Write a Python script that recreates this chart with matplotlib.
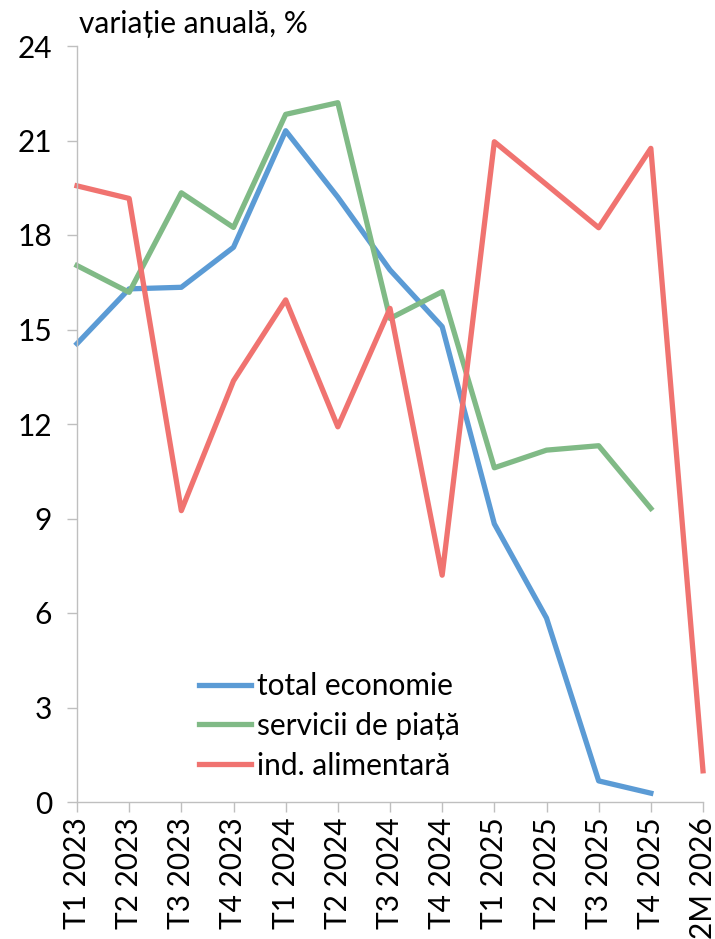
import numpy as np
import matplotlib
matplotlib.use("Agg")
import matplotlib.pyplot as plt

plt.rcParams['font.family'] = ['Lato', 'DejaVu Sans']

categories = ["T1 2023", "T2 2023", "T3 2023", "T4 2023",
              "T1 2024", "T2 2024", "T3 2024", "T4 2024",
              "T1 2025", "T2 2025", "T3 2025", "T4 2025", "2M 2026"]

total_economie = [14.55, 16.29, 16.34, 17.61, 21.31, 19.2, 16.89, 15.09,
                  8.83, 5.84, 0.67, 0.28, np.nan]
servicii_piata = [17.03, 16.18, 19.34, 18.24, 21.83, 22.2, 15.35, 16.2,
                  10.61, 11.17, 11.31, 9.32, np.nan]
ind_alimentara = [19.56, 19.16, 9.25, 13.37, 15.94, 11.91, 15.67, 7.2,
                  20.96, 19.6, 18.23, 20.75, 0.99]

blue = "#5B9BD5"
green = "#80BA86"
red = "#F07370"
axis_gray = "#BFBFBF"
fs = 21.5

fig = plt.figure(figsize=(7.15, 9.39), dpi=100)
ax = fig.add_axes([77/715, 1 - 802/939, (703 - 77)/715, (802 - 46)/939])

x = np.arange(len(categories))
lw = 3.8
ax.plot(x, total_economie, color=blue, lw=lw, label="total economie", clip_on=False)
ax.plot(x, servicii_piata, color=green, lw=lw, label="servicii de piață", clip_on=False)
ax.plot(x, ind_alimentara, color=red, lw=lw, label="ind. alimentară", clip_on=False)

ax.set_xlim(0, len(categories) - 1)
ax.set_ylim(0, 24)
ax.set_yticks(np.arange(0, 25, 3))
ax.set_xticks(x)
ax.set_xticklabels(categories, rotation=90, fontsize=fs)
ax.tick_params(axis='y', labelsize=fs, length=7, width=1, color=axis_gray, pad=11)
ax.tick_params(axis='x', length=7, width=1, color=axis_gray, pad=4)

for s in ["top", "right"]:
    ax.spines[s].set_visible(False)
for s in ["left", "bottom"]:
    ax.spines[s].set_color(axis_gray)
    ax.spines[s].set_linewidth(1)

fig.text(79/715, 1 - 33/939, "variație anuală, %", fontsize=fs, va='baseline', ha='left')

leg = ax.legend(loc='upper left', bbox_to_anchor=(199/715, 1 - 672/939),
                bbox_transform=fig.transFigure, frameon=False, fontsize=fs,
                handlelength=1.75, handletextpad=0.2, labelspacing=0.4,
                borderaxespad=0, borderpad=0)

fig.savefig("out.png", dpi=100)
